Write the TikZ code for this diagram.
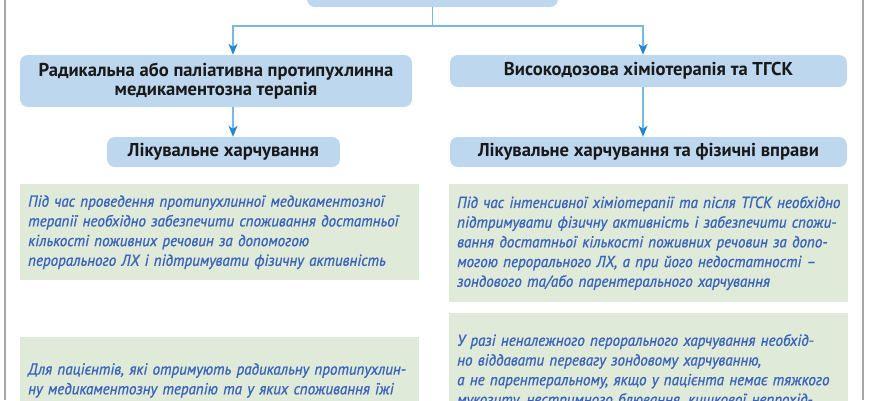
\documentclass[tikz,border=0pt]{standalone}
\usepackage{fontspec}
\setmainfont{PT Sans}
\newfontfamily\notefont[FakeStretch=0.94,FakeBold=1]{PT Sans}
\newcommand\tightlines{\lineskiplimit=-20pt\relax}
\newcommand\noteskip{\baselineskip=19.7pt\lineskiplimit=-20pt\relax}
\usetikzlibrary{arrows.meta}
\definecolor{boxblue}{RGB}{189,215,238}
\definecolor{boxgreen}{RGB}{223,234,217}
\definecolor{lineblue}{RGB}{120,185,228}
\definecolor{tipblue}{RGB}{36,135,205}
\definecolor{textblue}{RGB}{58,100,186}
\begin{document}
\begin{tikzpicture}[x=1pt,y=-1pt,line join=miter,
		head/.style={fill=boxblue,rounded corners=8pt,align=center,inner sep=0pt,text=black!90,font={\fontsize{18.6}{18.5}\selectfont\bfseries\tightlines}},
		note/.style={fill=boxgreen,anchor=north west,align=left,inner xsep=8pt,inner ysep=0pt,text width=383pt,text=textblue,font={\notefont\fontsize{16}{19.7}\selectfont\itshape\noteskip}},
		link/.style={draw=lineblue,line width=1.2pt,-{Stealth[length=11pt,width=9pt,inset=3pt,color=tipblue]}}]
			\useasboundingbox (0,0) rectangle (870,400);
			\clip (0,0) rectangle (870,400);
			\path 
			(233,26) coordinate (fl)
			(643,26) coordinate (fr);
			% side rules
			\draw [gray!70,line width=1.5pt] (5,0)--(5,400) (863,0)--(863,400);
			% blue boxes
			\node[head,minimum width=251pt,minimum height=38pt] (top) at (432.5,-12) {};
			\node[head,minimum width=392pt,minimum height=52pt] (radical) at (216,81) {Радикальна або паліативна протипухлинна\\медикаментозна терапія};
			\node[head,minimum width=233pt,minimum height=30pt] (dietL) at (223.5,152) {Лікувальне харчування};
			\node[head,minimum width=397pt,minimum height=32pt] (highdose) at (648.5,71) {Високодозова хіміотерапія та ТГСК};
			\node[head,minimum width=397pt,minimum height=30pt] (dietR) at (648.5,152) {Лікувальне харчування та фізичні вправи};
			% green notes
			\node[note,minimum height=96pt] (noteL) at (20,184) {Під час проведення протипухлинної медикаментозної\\терапії необхідно забезпечити споживання достатньої\\кількості поживних речовин за допомогою\\перорального ЛХ і підтримувати фізичну активність};
			\node[note,minimum height=118pt] (noteR) at (449,184) {\mbox{Під час інтенсивної хіміотерапії та після ТГСК необхідно}\\підтримувати фізичну активність і забезпечити спожи-\\вання достатньої кількості поживних речовин за допо-\\могою перорального ЛХ, а при його недостатності –\\зондового та/або парентерального харчування};
			\node[note,inner ysep=26pt] (noteLL) at (20,337) {Для пацієнтів, які отримують радикальну протипухлин-\\ну медикаментозну терапію та у яких споживання їжі\\залишається на неналежному рівні, незважаючи};
			\node[note,inner ysep=21pt] (noteRR) at (449,313) {У разі неналежного перорального харчування необхід-\\но віддавати перевагу зондовому харчуванню,\\а не парентеральному, якщо у пацієнта немає тяжкого\\мукозиту, нестримного блювання, кишкової непрохід-};
			% connectors
			\draw[link] (top.south) |- (fl) -- (fl |- radical.north);
			\draw[link] (top.south) |- (fr) -- (fr |- highdose.north);
			\draw[link] (fl |- radical.south) -- (fl |- dietL.north);
			\draw[link] (fr |- highdose.south) -- (fr |- dietR.north);
		\end{tikzpicture}
\end{document}
